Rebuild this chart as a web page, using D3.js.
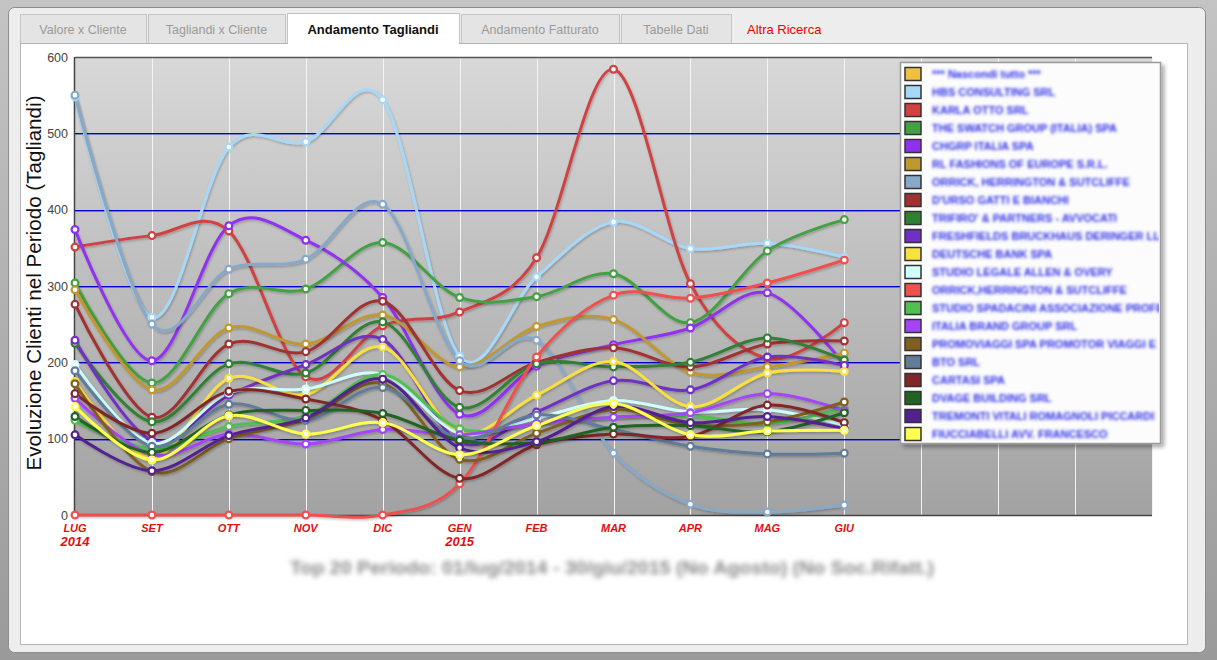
<!DOCTYPE html>
<html><head><meta charset="utf-8">
<script src="https://cdn.jsdelivr.net/npm/d3@7"></script>
<style>
html,body{margin:0;padding:0;background:#b2b2b2;}
svg{display:block;font-family:"Liberation Sans",Arial,sans-serif;}
</style></head>
<body>
<svg id="c" width="1217" height="660"></svg>
<script>
// ---------- DATA ----------
const categories = ["LUG","SET","OTT","NOV","DIC","GEN","FEB","MAR","APR","MAG","GIU"];
const yearLabels = ["2014","","","","","2015","","","","",""];
const yTicks = [0,100,200,300,400,500,600];
const tabs = ["Valore x Cliente","Tagliandi x Cliente","Andamento Tagliandi","Andamento Fatturato","Tabelle Dati","Altra Ricerca"];
const legendHeader = "*** Nascondi tutto ***";
const seriesNames = [
  "HBS CONSULTING SRL","KARLA OTTO SRL","THE SWATCH GROUP (ITALIA) SPA","CHGRP ITALIA SPA",
  "RL FASHIONS OF EUROPE S.R.L.","ORRICK, HERRINGTON & SUTCLIFFE","D'URSO GATTI E BIANCHI",
  "TRIFIRO' & PARTNERS - AVVOCATI","FRESHFIELDS BRUCKHAUS DERINGER LLP","DEUTSCHE BANK SPA",
  "STUDIO LEGALE ALLEN & OVERY","ORRICK,HERRINGTON & SUTCLIFFE","STUDIO SPADACINI ASSOCIAZIONE PROFE",
  "ITALIA BRAND GROUP SRL","PROMOVIAGGI SPA PROMOTOR VIAGGI E","BTO SRL","CARTASI SPA",
  "DVAGE BUILDING SRL","TREMONTI VITALI ROMAGNOLI PICCARDI","FIUCCIABELLI AVV. FRANCESCO"
];
const hbs          = [548,259,482,489,544,208,312,384,349,356,338];
const karla        = [351,366,372,181,248,266,337,584,303,205,252];
const swatch       = [304,173,290,296,357,285,286,316,252,346,387];
const chgrp        = [374,202,379,360,285,132,195,223,245,291,197];
const rlFashions   = [295,164,245,224,262,194,247,256,187,194,212];
const orrick       = [550,250,322,335,407,202,229,81,14,4,13];
const durso        = [276,128,224,214,280,163,200,219,194,224,228];
const trifiro      = [225,122,198,186,253,141,198,194,200,232,203];
const freshfields  = [229,98,157,197,230,95,135,176,164,207,196];
const deutsche     = [175,75,179,158,220,108,157,201,142,186,188];
const allen        = [197,94,160,165,184,107,127,150,135,138,118];
const orrick2      = [0,0,0,0,0,41,207,288,284,304,334];
const spadacini    = [124,87,116,130,184,113,120,128,130,120,140];
const italiaBrand  = [153,79,106,93,112,105,120,128,134,159,137];
const promoviaggi  = [172,57,100,125,172,73,107,138,118,122,148];
const bto          = [189,90,145,124,167,100,131,112,90,80,81];
const cartasi      = [159,107,162,152,124,48,92,106,103,144,121];
const dvage        = [129,82,131,137,133,98,95,115,117,109,134];
const tremonti     = [105,58,104,127,178,88,96,142,121,129,113];
const fiucciabelli = [142,72,130,106,121,79,117,146,105,110,111];
const seriesValues = [hbs,karla,swatch,chgrp,rlFashions,orrick,durso,trifiro,freshfields,deutsche,
  allen,orrick2,spadacini,italiaBrand,promoviaggi,bto,cartasi,dvage,tremonti,fiucciabelli];
const headerColor = "#f0c040";
const seriesColors = ["#a8d8f8","#d04242","#44a044","#9030f0","#c09830","#88a8c8","#a03232",
  "#308034","#7030c4","#f8e040","#d0ffff","#f05050","#50c050","#a444f8","#806020","#607c98",
  "#802828","#226222","#522090","#ffff50"];
const subtitle = "Top 20 Periodo: 01/lug/2014 - 30/giu/2015 (No Agosto)  (No Soc.Rifatt.)";
const yTitle = "Evoluzione Clienti nel Periodo (Tagliandi)";

// ---------- DRAW ----------
const svg = d3.select("#c");
const defs = svg.append("defs");
const bg = defs.append("linearGradient").attr("id","plotbg").attr("x1",0).attr("y1",0).attr("x2",0).attr("y2",1);
bg.append("stop").attr("offset","0%").attr("stop-color","#d8d8d8");
bg.append("stop").attr("offset","100%").attr("stop-color","#a2a2a2");
const og = defs.append("linearGradient").attr("id","outerbg").attr("x1",0).attr("y1",0).attr("x2",0).attr("y2",1);
og.append("stop").attr("offset","0%").attr("stop-color","#c4c4c4");
og.append("stop").attr("offset","100%").attr("stop-color","#9a9a9a");
const blur = defs.append("filter").attr("id","blur").attr("x","-5%").attr("y","-50%").attr("width","110%").attr("height","200%");
blur.append("feGaussianBlur").attr("stdDeviation",1.6);
const blur2 = defs.append("filter").attr("id","blur2").attr("x","-5%").attr("y","-60%").attr("width","110%").attr("height","220%");
blur2.append("feGaussianBlur").attr("stdDeviation",2.4);
const sh = defs.append("filter").attr("id","shadow").attr("x","-10%").attr("y","-10%").attr("width","130%").attr("height","130%");
sh.append("feDropShadow").attr("dx",1).attr("dy",1.5).attr("stdDeviation",1).attr("flood-color","#000").attr("flood-opacity",0.25);
const lsh = defs.append("filter").attr("id","lshadow").attr("x","-5%").attr("y","-5%").attr("width","110%").attr("height","110%");
lsh.append("feDropShadow").attr("dx",3).attr("dy",3).attr("stdDeviation",2).attr("flood-color","#000").attr("flood-opacity",0.35);
defs.append("clipPath").attr("id","legclip").append("rect").attr("x",900).attr("y",62).attr("width",259).attr("height",382);

svg.append("rect").attr("width",1217).attr("height",660).attr("fill","url(#outerbg)");
svg.append("rect").attr("x",8.5).attr("y",7.5).attr("width",1197).attr("height",645).attr("rx",6)
  .attr("fill","#ededed").attr("stroke","#8c8c8c");

// tabs
const tabX = [20,148,287,461,621,733];
const tabW = [126,137,172,158,110,110];
tabs.forEach((t,i)=>{
  const active = i===2, link = i===5;
  if(!link){
    svg.append("rect").attr("x",tabX[i]+0.5).attr("y",active?13.5:14.5).attr("width",tabW[i]).attr("height",active?31:29)
      .attr("fill",active?"#ffffff":"#e4e4e4").attr("stroke","#c4c4c4");
  }
  svg.append("text").attr("x",link?tabX[i]+14:tabX[i]+tabW[i]/2).attr("y",34)
    .attr("text-anchor",link?"start":"middle")
    .attr("font-size",active||link?13:12.5).attr("font-weight",active?"bold":"normal")
    .attr("fill",active?"#111":(link?"#ee0000":"#9a9a9a")).text(t);
});
// content panel
svg.append("rect").attr("x",20.5).attr("y",43.5).attr("width",1167).attr("height",601).attr("fill","#fff").attr("stroke","#b4b4b4");
svg.append("rect").attr("x",288).attr("y",42).attr("width",171).attr("height",3).attr("fill","#fff");

const L=75, R=1152, T=57, B=515;
const x = d3.scaleLinear().domain([0,14]).range([L,R]);
const y = d3.scaleLinear().domain([0,600]).range([B,T]);

svg.append("rect").attr("x",L).attr("y",T).attr("width",R-L).attr("height",B-T).attr("fill","url(#plotbg)");
// vertical grid
svg.append("g").selectAll("line").data(d3.range(1,15)).join("line")
  .attr("x1",d=>Math.round(x(d))+0.5).attr("x2",d=>Math.round(x(d))+0.5).attr("y1",T).attr("y2",B)
  .attr("stroke","#f4f4f4").attr("stroke-width",1);
// horizontal grid (blue)
svg.append("g").selectAll("rect").data(yTicks.filter(v=>v>0&&v<600)).join("rect")
  .attr("x",L).attr("width",R-L).attr("y",d=>Math.round(y(d))).attr("height",1.4)
  .attr("fill","#0000d0");
// frame lines
svg.append("line").attr("x1",L).attr("x2",R).attr("y1",T+0.5).attr("y2",T+0.5).attr("stroke","#555").attr("stroke-width",1.5);
svg.append("line").attr("x1",L-0.5).attr("x2",L-0.5).attr("y1",T).attr("y2",B).attr("stroke","#444").attr("stroke-width",1.5);
svg.append("line").attr("x1",L).attr("x2",R).attr("y1",B+0.5).attr("y2",B+0.5).attr("stroke","#444").attr("stroke-width",1.5);

// y axis
const yAxis = d3.axisLeft(y).tickValues(yTicks).tickSize(0).tickPadding(7);
const ya = svg.append("g").attr("transform",`translate(${L},0)`).call(yAxis);
ya.select(".domain").remove();
ya.selectAll("text").attr("font-size",12.5).attr("fill","#444").attr("font-family","Liberation Sans, Arial, sans-serif");

svg.append("text").attr("transform","translate(41,283) rotate(-90)").attr("text-anchor","middle")
  .attr("font-size",20).attr("fill","#111").attr("textLength",375).attr("lengthAdjust","spacingAndGlyphs").text(yTitle);

// x labels
const xl = svg.append("g");
categories.forEach((c,i)=>{
  xl.append("text").attr("x",x(i)).attr("y",532).attr("text-anchor","middle")
    .attr("font-size",11).attr("font-weight","bold").attr("font-style","italic").attr("fill","#e01010").text(c);
  if(yearLabels[i]) xl.append("text").attr("x",x(i)).attr("y",546).attr("text-anchor","middle")
    .attr("font-size",13).attr("font-weight","bold").attr("font-style","italic").attr("fill","#e01010").text(yearLabels[i]);
});

// subtitle (blurred as in reference)
svg.append("text").attr("x",612).attr("y",574).attr("text-anchor","middle").attr("font-size",18.5).attr("font-weight","bold")
  .attr("fill","#8a8a8a").attr("filter","url(#blur2)").attr("textLength",644).attr("lengthAdjust","spacingAndGlyphs").text(subtitle);

// series
const line = d3.line().x((d,i)=>x(i)).y(d=>y(d)).curve(d3.curveCatmullRom.alpha(0));
const sg = svg.append("g");
seriesValues.forEach((vals,k)=>{
  sg.append("path").datum(vals).attr("d",line).attr("fill","none")
    .attr("stroke",seriesColors[k]).attr("stroke-width",3).attr("stroke-linejoin","round").attr("filter","url(#shadow)");
});
seriesValues.forEach((vals,k)=>{
  sg.append("g").selectAll("circle").data(vals).join("circle")
    .attr("cx",(d,i)=>x(i)).attr("cy",d=>y(d)).attr("r",3.4)
    .attr("fill","#fff").attr("stroke",seriesColors[k]).attr("stroke-width",2.2);
});

// legend
const lg = svg.append("g");
lg.append("rect").attr("x",900.5).attr("y",62.5).attr("width",260).attr("height",381)
  .attr("fill","#fcfcfc").attr("stroke","#9a9a9a").attr("stroke-width",1.5).attr("filter","url(#lshadow)");
const legendNames = [legendHeader].concat(seriesNames);
const legendColors = [headerColor].concat(seriesColors);
const ly = d3.scaleLinear().domain([0,20]).range([74,434]);
const lgi = lg.append("g").attr("clip-path","url(#legclip)");
legendNames.forEach((n,i)=>{
  lgi.append("rect").attr("x",905).attr("y",ly(i)-6.5).attr("width",16).attr("height",13)
    .attr("fill",legendColors[i]).attr("stroke","#333").attr("stroke-width",1.5);
  lgi.append("text").attr("x",932).attr("y",ly(i)+4).attr("font-size",11).attr("font-weight","bold")
    .attr("fill","#2f2fe8").attr("filter","url(#blur)").text(n);
});
</script>
</body></html>
